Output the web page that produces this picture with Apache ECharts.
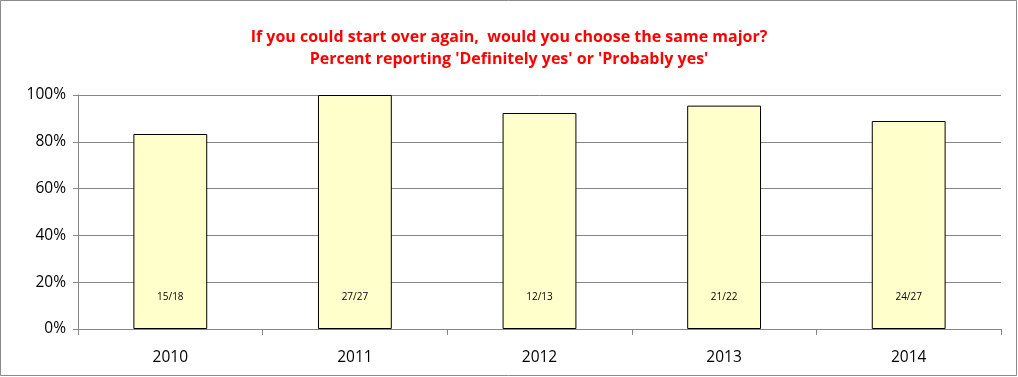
<!DOCTYPE html>
<html><head><meta charset="utf-8">
<script src="https://cdn.jsdelivr.net/npm/echarts@6/dist/echarts.min.js"></script>
<style>html,body{margin:0;padding:0;background:#fff}#c{width:1018px;height:377px}</style>
</head><body><div id="c"></div>
<script>
const categories = ['2010','2011','2012','2013','2014'];
const yes = [15, 27, 12, 21, 24];
const total = [18, 27, 13, 22, 27];
const yTicks = [0, 20, 40, 60, 80, 100];

const pct = yes.map((v,i)=> v/total[i]*100);
const chart = echarts.init(document.getElementById('c'));
const F = '"Open Sans", "Noto Sans", sans-serif';
chart.setOption({
  animation:false,
  graphic:[{type:'rect',shape:{x:0.5,y:0.5,width:1016,height:375},style:{fill:'none',stroke:'#8a8a8a',lineWidth:1}}],
  title:{text:"If you could start over again,  would you choose the same major?\nPercent reporting 'Definitely yes' or 'Probably yes'",
    left:'center',top:21,textStyle:{color:'#ff0000',fontFamily:F,fontWeight:'bold',fontSize:16,lineHeight:22}},
  grid:{left:78,right:17,top:95,bottom:48},
  xAxis:{type:'category',data:categories,
    axisLine:{lineStyle:{color:'#868686'}},
    axisTick:{show:true,length:6,lineStyle:{color:'#868686'}},
    axisLabel:{color:'#000',fontFamily:F,fontSize:15.5,margin:21}},
  yAxis:{type:'value',min:0,max:100,interval:20,
    axisLine:{show:true,lineStyle:{color:'#868686'}},
    axisTick:{show:true,length:5,lineStyle:{color:'#868686'}},
    splitLine:{lineStyle:{color:'#868686'}},
    axisLabel:{color:'#000',fontFamily:F,fontSize:15.5,margin:12,
      formatter:v=> yTicks.includes(v)? v+'%':''}},
  series:[{type:'bar',data:pct,barWidth:'40%',
    itemStyle:{color:'#ffffcc',borderColor:'#000',borderWidth:1},
    label:{show:true,position:'insideBottom',distance:27,color:'#000',fontFamily:F,fontSize:10,
      formatter:p=> yes[p.dataIndex]+'/'+total[p.dataIndex]}}]
});
</script></body></html>
